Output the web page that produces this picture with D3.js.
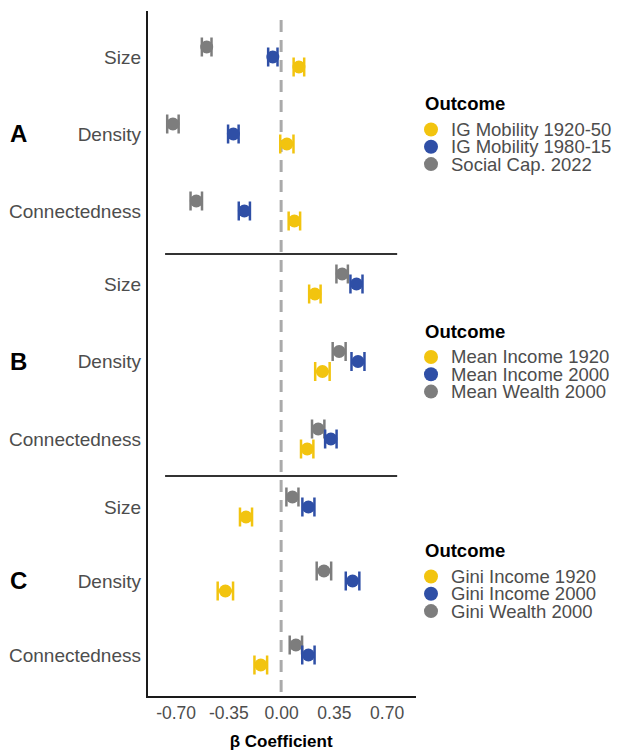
<!DOCTYPE html>
<html>
<head>
<meta charset="utf-8">
<script src="https://cdn.jsdelivr.net/npm/d3@7"></script>
<style>
  html, body { margin: 0; padding: 0; background: #fff; }
  svg { display: block; font-family: "Liberation Sans", Arial, sans-serif; }
</style>
</head>
<body>
<svg id="chart" width="618" height="750"></svg>
<script>
// Network measures on the vertical axis, one block per panel
const rows = ["Size", "Density", "Connectedness"];
const panels = ["A", "B", "C"];

// Outcome names per panel (order: yellow, blue, gray)
const outcomesA = ["IG Mobility 1920-50", "IG Mobility 1980-15", "Social Cap. 2022"];
const outcomesB = ["Mean Income 1920", "Mean Income 2000", "Mean Wealth 2000"];
const outcomesC = ["Gini Income 1920", "Gini Income 2000", "Gini Wealth 2000"];

// β estimates, values listed as [Size, Density, Connectedness]
const betaA1 = [0.118, 0.038, 0.088];
const betaA2 = [-0.055, -0.317, -0.244];
const betaA3 = [-0.494, -0.718, -0.563];
const betaB1 = [0.224, 0.274, 0.173];
const betaB2 = [0.500, 0.510, 0.330];
const betaB3 = [0.405, 0.385, 0.246];
const betaC1 = [-0.233, -0.370, -0.135];
const betaC2 = [0.181, 0.474, 0.181];
const betaC3 = [0.075, 0.284, 0.098];

// Half-widths of the confidence intervals, same layout
const ciA1 = [0.035, 0.044, 0.038];
const ciA2 = [0.031, 0.035, 0.037];
const ciA3 = [0.032, 0.038, 0.038];
const ciB1 = [0.038, 0.048, 0.041];
const ciB2 = [0.040, 0.043, 0.038];
const ciB3 = [0.038, 0.043, 0.041];
const ciC1 = [0.040, 0.051, 0.042];
const ciC2 = [0.040, 0.045, 0.041];
const ciC3 = [0.040, 0.048, 0.041];

const xTicks = [-0.70, -0.35, 0.00, 0.35, 0.70];
const colors = ["#F2C40F", "#2F4FA6", "#7D7D7D"];

const panelData = [
  { id: "A", outcomes: outcomesA, betas: [betaA1, betaA2, betaA3], cis: [ciA1, ciA2, ciA3] },
  { id: "B", outcomes: outcomesB, betas: [betaB1, betaB2, betaB3], cis: [ciB1, ciB2, ciB3] },
  { id: "C", outcomes: outcomesC, betas: [betaC1, betaC2, betaC3], cis: [ciC1, ciC2, ciC3] }
];

const svg = d3.select("#chart");
const plotLeft = 147, plotRight = 416, plotTop = 11, plotBottom = 697;

const x = d3.scaleLinear().domain([-0.89, 0.895]).range([plotLeft, plotRight]);

// Vertical extent of each panel's three rows
const panelRanges = { A: [57, 211], B: [284, 439], C: [507, 655] };
const dodge = d3.scalePoint().domain([2, 1, 0]).range([-10, 10]);

const textColor = "#4D4D4D";

// zero reference line
svg.append("line")
  .attr("x1", x(0)).attr("x2", x(0))
  .attr("y1", 20).attr("y2", plotBottom)
  .attr("stroke", "#AAAAAA").attr("stroke-width", 3)
  .attr("stroke-dasharray", "12,8");

// separators between panels
[254, 476].forEach(yy => {
  svg.append("line")
    .attr("x1", x(-0.77)).attr("x2", x(0.77))
    .attr("y1", yy).attr("y2", yy)
    .attr("stroke", "#333").attr("stroke-width", 2);
});

panelData.forEach(p => {
  const y = d3.scalePoint().domain(rows).range(panelRanges[p.id]);
  const g = svg.append("g");

  // row labels
  g.selectAll("text.row").data(rows).join("text")
    .attr("class", "row")
    .attr("x", plotLeft - 6).attr("y", d => y(d))
    .attr("dy", "0.35em")
    .attr("text-anchor", "end")
    .attr("font-size", 19)
    .attr("fill", textColor)
    .text(d => d);

  // panel letter
  g.append("text")
    .attr("x", 10).attr("y", y("Density"))
    .attr("dy", "0.35em")
    .attr("font-size", 24).attr("font-weight", "bold")
    .attr("fill", "#000")
    .text(p.id);

  // points with error bars
  const pts = [];
  p.betas.forEach((arr, si) => arr.forEach((b, ri) => {
    pts.push({ s: si, row: rows[ri], b: b, ci: p.cis[si][ri] });
  }));
  // gray first, then blue, then yellow on top
  pts.sort((a, b) => b.s - a.s);

  const mk = g.selectAll("g.pt").data(pts).join("g").attr("class", "pt")
    .attr("transform", d => `translate(0,${y(d.row) + dodge(d.s)})`);
  mk.append("line")
    .attr("x1", d => x(d.b - d.ci)).attr("x2", d => x(d.b + d.ci))
    .attr("stroke", d => colors[d.s]).attr("stroke-width", 2.5);
  [-1, 1].forEach(sign => {
    mk.append("line")
      .attr("x1", d => x(d.b + sign * d.ci)).attr("x2", d => x(d.b + sign * d.ci))
      .attr("y1", -9.5).attr("y2", 9.5)
      .attr("stroke", d => colors[d.s]).attr("stroke-width", 2.5);
  });
  mk.append("circle")
    .attr("cx", d => x(d.b)).attr("r", 6.5)
    .attr("fill", d => colors[d.s]);

  // legend
  const ly = y("Density");
  const lg = svg.append("g");
  lg.append("text")
    .attr("x", 425).attr("y", ly - 30).attr("dy", "0.35em")
    .attr("font-size", 18.5).attr("font-weight", "bold").attr("fill", "#000")
    .text("Outcome");
  p.outcomes.forEach((name, i) => {
    const yy = ly - 4.5 + i * 17.3;
    lg.append("circle").attr("cx", 431).attr("cy", yy).attr("r", 7).attr("fill", colors[i]);
    lg.append("text")
      .attr("x", 451).attr("y", yy).attr("dy", "0.35em")
      .attr("font-size", 18.5).attr("fill", textColor)
      .text(name);
  });
});

// axis lines
svg.append("line")
  .attr("x1", plotLeft).attr("x2", plotLeft).attr("y1", plotTop).attr("y2", plotBottom + 1)
  .attr("stroke", "#1a1a1a").attr("stroke-width", 2);

const xAxis = svg.append("g")
  .attr("transform", `translate(0,${plotBottom})`)
  .call(d3.axisBottom(x).tickValues(xTicks).tickSize(0).tickPadding(10)
    .tickFormat(d => d.toFixed(2)));
xAxis.select(".domain").attr("stroke", "#1a1a1a").attr("stroke-width", 2)
  .attr("d", `M${plotLeft},0H${plotRight}`);
xAxis.selectAll("text")
  .attr("font-size", 17.5).attr("fill", textColor)
  .attr("font-family", "Liberation Sans, Arial, sans-serif");

svg.append("text")
  .attr("x", x(0)).attr("y", 741).attr("dy", "0.35em")
  .attr("text-anchor", "middle")
  .attr("font-size", 17).attr("font-weight", "bold").attr("fill", "#000")
  .text("β Coefficient");
</script>
</body>
</html>
